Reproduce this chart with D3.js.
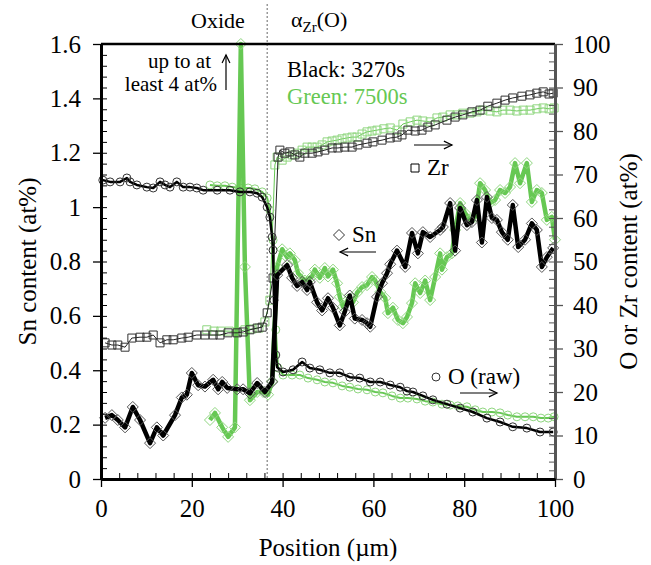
<!DOCTYPE html>
<html>
<head>
<meta charset="utf-8">
<script src="https://cdn.jsdelivr.net/npm/d3@7"></script>
<style>
  body { margin: 0; background: #fff; }
  svg { display: block; }
</style>
</head>
<body>
<svg id="chart" width="651" height="565" font-family="Liberation Serif"></svg>
<script>
// ---- Sn content (left axis, at%) ----
const snBlackPos = [0.9,2.4,3.7,5.3,7.0,8.6,10.8,12.3,13.7,16.3,17.8,18.9,20.0,21.4,22.9,24.7,25.8,26.7,27.8,30.0,31.3,32.8,34.4,36.1,37.7,38.8,41.0,42.1,43.2,44.3,45.4,46.0,47.6,48.7,50.0,51.1,52.6,53.7,54.8,55.9,57.5,58.6,59.3,60.8,61.9,63.0,63.7,65.2,67.0,68.5,69.8,70.9,72.5,74.7,75.3,76.9,78.0,79.1,80.6,81.7,82.8,83.9,85.0,86.1,87.2,88.3,89.6,90.7,91.9,93.4,94.9,96.0,97.1,98.2,99.6];
const snBlack    = [0.225,0.235,0.217,0.19,0.265,0.217,0.132,0.19,0.16,0.235,0.30,0.31,0.39,0.345,0.34,0.365,0.33,0.357,0.335,0.33,0.33,0.315,0.353,0.32,0.357,0.75,0.787,0.74,0.71,0.725,0.695,0.725,0.65,0.62,0.665,0.63,0.565,0.615,0.675,0.59,0.585,0.573,0.56,0.67,0.72,0.757,0.79,0.84,0.78,0.905,0.83,0.908,0.89,0.916,0.927,1.015,0.84,0.997,0.934,0.945,1.026,0.87,1.037,0.96,0.953,0.908,0.88,1.008,0.853,0.88,0.94,0.916,0.78,0.816,0.85];

const snGreenPos = [24.0,25.1,26.7,28.0,29.5,30.8,31.7,32.8,34.4,35.7,36.8,37.7,38.8,39.9,41.0,41.6,42.7,43.4,44.9,46.5,47.1,48.2,49.3,50.0,51.1,52.0,52.6,53.3,54.4,55.5,56.4,57.5,58.6,59.7,60.4,61.5,62.6,63.2,64.3,65.4,66.5,67.4,68.5,69.2,70.3,71.4,72.5,73.6,74.7,75.1,76.2,77.3,78.0,79.1,80.2,81.3,82.4,83.5,84.6,85.7,86.8,87.9,89.0,90.1,91.2,92.3,93.8,94.9,96.0,97.1,98.2,99.3,100.0];
const snGreen    = [0.217,0.243,0.19,0.155,0.19,4.0,0.78,0.29,0.32,0.32,0.31,0.36,0.78,0.845,0.815,0.83,0.805,0.757,0.73,0.745,0.77,0.74,0.776,0.745,0.77,0.72,0.67,0.633,0.66,0.65,0.685,0.706,0.713,0.743,0.73,0.688,0.666,0.61,0.63,0.585,0.573,0.596,0.647,0.72,0.684,0.73,0.658,0.743,0.83,0.77,0.816,0.83,0.916,1.015,0.978,0.953,0.964,1.088,1.063,1.015,1.026,1.063,1.052,1.074,1.162,1.088,1.162,1.019,1.063,1.052,0.953,0.964,0.88];

// ---- O content, raw (right axis, at%) ----
const oBlackPos = [0.4,2.0,4.2,5.7,6.4,7.9,10.1,11.5,13.0,14.1,15.2,16.7,18.1,19.6,21.1,22.5,25.6,28.4,30.6,32.8,34.4,35.5,36.6,37.2,37.7,37.9,38.1,38.5,38.8,40.1,42.3,44.3,46.0,48.2,50.4,52.6,54.8,57.0,59.3,61.5,63.7,65.9,67.4,68.7,70.9,73.1,76.2,79.1,81.9,85.0,87.9,90.7,93.8,96.7,99.6];
const oBlack    = [68.7,68.3,68.3,69.2,68.3,67.6,67.1,66.9,68.3,67.6,67.1,68.3,67.1,67.1,66.9,66.4,66.4,66.4,66.0,66.0,65.7,64.8,62.5,60.2,55.6,52.6,41.1,28.5,25.7,24.6,25.1,26.9,25.5,25.1,24.4,24.4,23.4,23.2,22.3,22.3,21.6,21.1,20.2,20.0,19.1,18.2,17.2,16.3,15.4,14.0,13.1,12.0,11.7,10.8,10.8];

const oGreenPos = [24.0,25.6,27.3,28.9,30.6,32.4,33.9,35.5,36.6,37.2,37.9,38.5,39.0,40.1,42.1,43.8,45.6,47.6,49.3,51.1,53.1,54.8,56.6,58.6,60.4,62.1,64.1,65.9,67.6,69.6,71.4,73.1,75.1,76.9,78.6,80.6,82.4,84.1,86.1,87.9,89.6,91.6,93.4,95.2,96.9,98.5,99.8];
const oGreen    = [67.6,67.4,67.4,67.1,66.9,66.9,66.7,66.0,64.6,61.8,54.9,34.3,25.5,23.9,23.9,23.9,23.2,22.8,22.3,22.1,21.4,21.1,20.7,20.5,20.0,19.8,19.1,18.6,18.6,18.4,17.9,17.7,17.2,17.0,16.8,16.6,15.9,15.4,15.4,15.2,14.7,14.3,14.3,14.3,14.0,14.0,14.3];

// ---- Zr content (right axis, at%) ----
const zrBlackPos = [0.9,2.4,3.7,5.3,6.8,8.6,10.1,11.5,13.0,14.5,15.9,17.8,19.2,21.1,22.9,24.7,26.2,28.0,30.0,31.3,32.8,34.4,35.5,36.6,37.9,39.0,39.4,40.5,41.6,42.7,43.8,44.9,46.5,47.8,49.3,50.9,52.2,53.7,55.3,56.6,58.6,59.9,61.9,63.7,65.2,66.3,67.6,69.2,70.7,72.0,73.6,76.2,78.0,79.7,81.7,83.5,85.2,87.2,89.0,90.7,92.7,94.5,96.0,97.4,98.7,99.6];
const zrBlack    = [31.3,30.8,30.8,30.3,32.4,32.6,32.6,33.1,31.3,32.0,32.0,32.4,32.6,33.1,33.1,33.1,33.1,33.6,33.6,33.8,34.3,34.7,34.9,38.2,46.2,74.0,75.6,74.9,75.2,74.5,74.0,74.9,74.9,75.2,75.6,76.1,76.1,76.3,76.3,76.8,77.2,77.5,77.9,78.4,78.6,79.1,80.2,80.0,80.2,80.9,81.4,82.5,83.2,83.7,84.4,84.8,85.7,86.4,87.1,87.6,88.0,88.3,88.7,89.0,88.5,88.7];

const zrGreenPos = [23.3,24.9,26.4,28.2,30.0,31.7,33.3,34.8,36.1,37.2,38.3,38.8,39.9,41.0,42.1,43.2,44.3,45.4,46.5,47.6,48.7,49.8,50.9,52.0,53.1,54.2,55.3,56.4,57.5,58.6,59.7,60.8,62.3,63.7,65.2,66.5,68.1,69.6,70.9,72.5,74.0,75.3,76.9,78.4,79.7,81.3,82.8,84.1,85.7,87.2,88.5,90.1,91.6,93.0,94.5,96.0,97.4,98.7,99.8];
const zrGreen    = [34.3,34.0,34.0,34.0,33.8,34.3,34.5,34.7,36.1,41.1,72.2,74.0,73.3,74.0,74.5,74.9,75.6,76.3,76.3,76.3,76.8,77.5,77.7,77.9,78.2,78.4,78.6,78.6,79.3,79.8,80.0,80.2,80.5,80.7,80.2,81.6,82.1,82.5,82.3,82.1,83.0,83.2,83.7,83.7,84.1,84.1,84.4,84.8,84.6,84.4,84.8,84.8,84.6,84.8,84.8,85.1,85.3,85.1,85.3];

// ---- axis ticks ----
const xTicks = [0, 20, 40, 60, 80, 100];
const leftTicks = [0, 0.2, 0.4, 0.6, 0.8, 1, 1.2, 1.4, 1.6];
const rightTicks = [0, 10, 20, 30, 40, 50, 60, 70, 80, 90, 100];
const interfacePos = 36.6;

const GREEN = "#66c853";
const GREEN_LIGHT = "#8fd67f";
const FACE = "Liberation Serif";
const TICK_PX = 25;

const svg = d3.select("#chart");
const W = { l: 101, r: 555, t: 44, b: 479 };

const x = d3.scaleLinear().domain([0, 100]).range([W.l, W.r]);
const yL = d3.scaleLinear().domain([0, 1.6]).range([W.b, W.t]).clamp(true);
const yR = d3.scaleLinear().domain([0, 100]).range([W.b, W.t]).clamp(true);

const zip = (p, v) => p.map((d, i) => [d, v[i]]);

// text helper with serif face
function label(parent, txt, px, xPos, yPos, anchor) {
  return parent.append("text")
    .attr("x", xPos).attr("y", yPos)
    .attr("text-anchor", anchor || "start")
    .attr("font-family", FACE).attr("font-size", px)
    .attr("fill", "#000")
    .text(txt);
}

// interface marker (dotted)
svg.append("line")
  .attr("x1", x(interfacePos)).attr("x2", x(interfacePos))
  .attr("y1", 4).attr("y2", W.b)
  .attr("stroke", "#666").attr("stroke-width", 1)
  .attr("stroke-dasharray", "2,2");

// marker shapes
const diamondPath = r => `M0,${-r}L${r},0L0,${r}L${-r},0Z`;
const squarePath = s => `M${-s},${-s}H${s}V${s}H${-s}Z`;

function drawSeries(data, y, opt) {
  const g = svg.append("g");
  const line = d3.line().x(d => x(d[0])).y(d => y(d[1]));
  g.append("path").datum(data)
    .attr("d", line)
    .attr("fill", "none")
    .attr("stroke", opt.lineColor)
    .attr("stroke-width", opt.lineWidth)
    .attr("stroke-linejoin", "round");
  const m = g.selectAll(".m").data(data).join(opt.marker === "circle" ? "circle" : "path");
  if (opt.marker === "circle") {
    m.attr("cx", d => x(d[0])).attr("cy", d => y(d[1])).attr("r", 4);
  } else {
    const p = opt.marker === "diamond" ? diamondPath(5.5) : squarePath(4);
    m.attr("d", p).attr("transform", d => `translate(${x(d[0])},${y(d[1])})`);
  }
  m.attr("fill", "none").attr("stroke", opt.markColor).attr("stroke-width", 1);
}

// green (7500 s) beneath, black (3270 s) on top
drawSeries(zip(zrGreenPos, zrGreen), yR, { lineColor: GREEN, lineWidth: 1, marker: "square", markColor: GREEN_LIGHT });
drawSeries(zip(oGreenPos, oGreen), yR, { lineColor: GREEN, lineWidth: 2, marker: "circle", markColor: GREEN_LIGHT });
drawSeries(zip(snGreenPos, snGreen), yL, { lineColor: GREEN, lineWidth: 4.5, marker: "diamond", markColor: GREEN_LIGHT });
drawSeries(zip(zrBlackPos, zrBlack), yR, { lineColor: "#222", lineWidth: 1, marker: "square", markColor: "#333" });
drawSeries(zip(oBlackPos, oBlack), yR, { lineColor: "#000", lineWidth: 2.5, marker: "circle", markColor: "#333" });
drawSeries(zip(snBlackPos, snBlack), yL, { lineColor: "#000", lineWidth: 4.5, marker: "diamond", markColor: "#555" });

// ---- axes ----
const fmt = d => String(+d.toFixed(1));
function styleAxis(g, w, color) {
  g.attr("font-family", FACE).attr("font-size", TICK_PX);
  g.select(".domain").attr("stroke", color).attr("stroke-width", w);
  g.selectAll(".tick line").attr("stroke", color).attr("stroke-width", 1.3);
  g.selectAll(".tick text").attr("font-family", FACE).attr("font-size", TICK_PX).attr("fill", "#000");
}

// minor (inner) ticks
svg.append("g").attr("transform", `translate(${W.l},0)`)
  .call(d3.axisRight(yL).tickValues(d3.range(0, 1.6001, 0.04)).tickSize(6).tickSizeOuter(0).tickFormat(""))
  .call(g => { g.select(".domain").remove(); g.selectAll("line").attr("stroke", "#000"); });
svg.append("g").attr("transform", `translate(${W.r},0)`)
  .call(d3.axisLeft(yR).tickValues(d3.range(0, 100.01, 2)).tickSize(6).tickSizeOuter(0).tickFormat(""))
  .call(g => { g.select(".domain").remove(); g.selectAll("line").attr("stroke", "#555"); });
svg.append("g").attr("transform", `translate(0,${W.b})`)
  .call(d3.axisTop(x).tickValues(d3.range(0, 100.01, 4)).tickSize(6).tickSizeOuter(0).tickFormat(""))
  .call(g => { g.select(".domain").remove(); g.selectAll("line").attr("stroke", "#000"); });

// top frame
svg.append("line").attr("x1", W.l).attr("x2", W.r).attr("y1", W.t).attr("y2", W.t)
  .attr("stroke", "#000").attr("stroke-width", 2.5);

// major axes
svg.append("g").attr("transform", `translate(${W.r},0)`)
  .call(d3.axisRight(yR).tickValues(rightTicks).tickSize(8).tickSizeOuter(0).tickPadding(10))
  .call(g => styleAxis(g, 3, "#555"));
svg.append("g").attr("transform", `translate(${W.l},0)`)
  .call(d3.axisLeft(yL).tickValues(leftTicks).tickSize(8).tickSizeOuter(0).tickPadding(12).tickFormat(fmt))
  .call(g => styleAxis(g, 3, "#000"));
svg.append("g").attr("transform", `translate(0,${W.b})`)
  .call(d3.axisBottom(x).tickValues(xTicks).tickSize(8).tickSizeOuter(0).tickPadding(12))
  .call(g => styleAxis(g, 3, "#000"));

// axis titles
label(svg, "Position (µm)", 25, (W.l + W.r) / 2, 556, "middle");
label(svg, "Sn content (at%)", 25, 0, 0, "middle")
  .attr("transform", `translate(36,${(W.t + W.b) / 2}) rotate(-90)`);
label(svg, "O or Zr content (at%)", 25, 0, 0, "middle")
  .attr("transform", `translate(637,${(W.t + W.b) / 2}) rotate(-90)`);

// region labels
label(svg, "Oxide", 22, 218, 28, "middle");
const az = label(svg, "", 22, 291, 27);
az.append("tspan").text("α");
az.append("tspan").attr("dy", 5).attr("font-size", 15).text("Zr");
az.append("tspan").attr("dy", -5).text("(O)");

// time legend
label(svg, "Black: 3270s", 22.5, 287, 77);
label(svg, "Green: 7500s", 22.5, 287, 104).attr("fill", GREEN);

// arrow helper
function arrow(x1, y1, x2, y2) {
  const g = svg.append("g").attr("stroke", "#000").attr("stroke-width", 1.2).attr("fill", "none");
  g.append("line").attr("x1", x1).attr("y1", y1).attr("x2", x2).attr("y2", y2);
  const a = Math.atan2(y2 - y1, x2 - x1), L = 9, s = 0.45;
  g.append("path").attr("d",
    `M${x2 - L * Math.cos(a - s)},${y2 - L * Math.sin(a - s)}L${x2},${y2}L${x2 - L * Math.cos(a + s)},${y2 - L * Math.sin(a + s)}`);
}

// off-scale note for the Sn spike in the oxide
label(svg, "up to at", 21, 211, 68, "end");
label(svg, "least 4 at%", 21, 217, 91, "end");
arrow(226, 90, 226, 55);

// series key labels
svg.append("path").attr("d", squarePath(4)).attr("transform", "translate(415,168)")
  .attr("fill", "none").attr("stroke", "#000").attr("stroke-width", 1);
label(svg, "Zr", 23, 427, 175);
arrow(414, 145, 452, 145);

svg.append("path").attr("d", diamondPath(5.5)).attr("transform", "translate(339,235)")
  .attr("fill", "none").attr("stroke", "#333").attr("stroke-width", 1);
label(svg, "Sn", 23, 352, 242);
arrow(376, 252, 340, 252);

svg.append("circle").attr("cx", 436).attr("cy", 377).attr("r", 4)
  .attr("fill", "none").attr("stroke", "#333").attr("stroke-width", 1);
label(svg, "O (raw)", 23, 448, 384);
arrow(460, 393, 497, 393);
</script>
</body>
</html>
